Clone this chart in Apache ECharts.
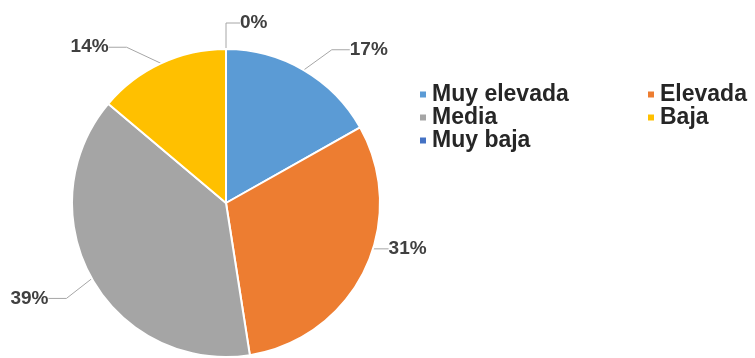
<!DOCTYPE html>
<html>
<head>
<meta charset="utf-8">
<script src="https://cdn.jsdelivr.net/npm/echarts@6/dist/echarts.min.js"></script>
<style>
  html, body { margin: 0; padding: 0; background: #ffffff; }
  #chart { width: 755px; height: 358px; }
</style>
</head>
<body>
<div id="chart"></div>
<script>
// Categories, shares (%) and slice colours
const categories = ['Muy elevada', 'Elevada', 'Media', 'Baja', 'Muy baja'];
const shares = [17, 31, 39, 14, 0];
const colors = ['#5B9BD5', '#ED7D31', '#A5A5A5', '#FFC000', '#4472C4'];

const leftColumn = ['Muy elevada', 'Media', 'Muy baja'];
const rightColumn = ['Elevada', 'Baja'];

// Per-slice nudges of the percentage labels, [dx, dy] in pixels
const labelNudges = [[13, -3], [-17, -30], [-3, 10], [-21, 2], [-9, -6]];

const chart = echarts.init(document.getElementById('chart'), null, { renderer: 'canvas' });

const legendBase = {
  orient: 'vertical',
  top: 78,
  itemWidth: 8,
  itemHeight: 8,
  itemGap: 0,
  icon: 'rect',
  textStyle: {
    fontFamily: 'Liberation Sans, Arial, sans-serif',
    fontWeight: 'bold',
    fontSize: 23,
    color: '#262626'
  }
};

chart.setOption({
  animation: false,
  color: colors,
  legend: [
    Object.assign({}, legendBase, { left: 413, data: leftColumn }),
    Object.assign({}, legendBase, { left: 641, data: rightColumn })
  ],
  series: [{
    type: 'pie',
    center: [226, 203],
    radius: [0, 154],
    startAngle: 90,
    clockwise: true,
    avoidLabelOverlap: false,
    itemStyle: { borderColor: '#ffffff', borderWidth: 2 },
    label: {
      show: true,
      position: 'outside',
      formatter: '{c}%',
      fontFamily: 'Liberation Sans, Arial, sans-serif',
      fontWeight: 'bold',
      fontSize: 19,
      color: '#404040'
    },
    labelLine: {
      show: true,
      length: 20,
      length2: 18,
      lineStyle: { color: '#a6a6a6', width: 1 }
    },
    // Shift each label from its default spot; absolute x/y lets the leader line follow
    labelLayout: function (params) {
      const n = labelNudges[params.dataIndex] || [0, 0];
      const r = params.labelRect;
      return {
        x: r.x + n[0],
        y: r.y + n[1],
        align: 'left',
        verticalAlign: 'top'
      };
    },
    data: categories.map((name, i) => ({ name: name, value: shares[i] }))
  }]
});
</script>
</body>
</html>
